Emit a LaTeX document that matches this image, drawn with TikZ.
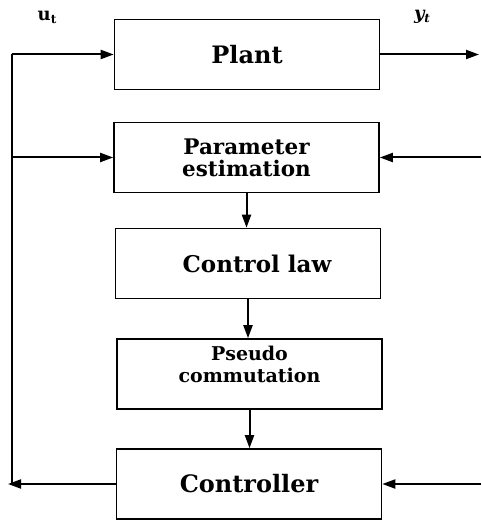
\documentclass[tikz,border=0pt]{standalone}
\usepackage{fontspec}
\setmainfont{DejaVu Serif}
\usetikzlibrary{arrows.meta}
\begin{document}
\begin{tikzpicture}[x=1pt,y=-1pt,
  blk/.style={draw,line width=1.6pt,rectangle,inner sep=0pt,minimum width=265pt,minimum height=70pt,align=center,font=\fontsize{21.5}{22}\selectfont\bfseries},
  big/.style={font=\fontsize{24}{24}\selectfont\bfseries},
  ln/.style={line width=2pt},
  arr/.style={line width=2pt,-{Triangle[length=13pt,width=9pt]}},
  lab/.style={font=\fontsize{18}{18}\selectfont\bfseries}]
\useasboundingbox (0,0) rectangle (481,521);
\node[blk,big] (P) at (247,54.5) {Plant};
\node[blk] (PE) at (246.5,157.5) {Parameter\\estimation};
\node[blk,font=\fontsize{23}{24}\selectfont\bfseries] (CL) at (248,263.5) {\hspace*{18pt}Control law};
\node[blk,font=\fontsize{19}{22}\selectfont\bfseries] (PC) at (249.5,374) {Pseudo\\commutation\\[-10pt]\strut};
\node[blk,big] (C) at (249,484) {Controller};
\node[lab] (ulab) at (47,17) {u{\fontsize{12}{12}\selectfont\raisebox{-3pt}{t}}};
\node[lab] (ylab) at (422,17) {\itshape y{\fontsize{12}{12}\selectfont\raisebox{-3pt}{t}}};
\coordinate (Lt) at (12,54.5);
\coordinate (Lb) at (12,484);
\coordinate (Lend) at (8,484);
\coordinate (Rout) at (479,54.5);
\coordinate (R1) at (481,157.5);
\coordinate (R2) at (481,484);
\draw[ln] (Lt) -- (Lb);
\draw[arr] (Lt) -- (P.west);
\draw[arr] (Lb |- PE.west) -- (PE.west);
\draw[arr] (C.west) -- (Lend);
\draw[arr] (P.east) -- (Rout);
\draw[arr] (R1) -- (PE.east);
\draw[arr] (R2) -- (C.east);
\draw[arr] (PE.south) -- (PE.south |- CL.north);
\draw[arr] (CL.south) -- (CL.south |- PC.north);
\draw[arr] (PC.south) -- (PC.south |- C.north);
\end{tikzpicture}
\end{document}
